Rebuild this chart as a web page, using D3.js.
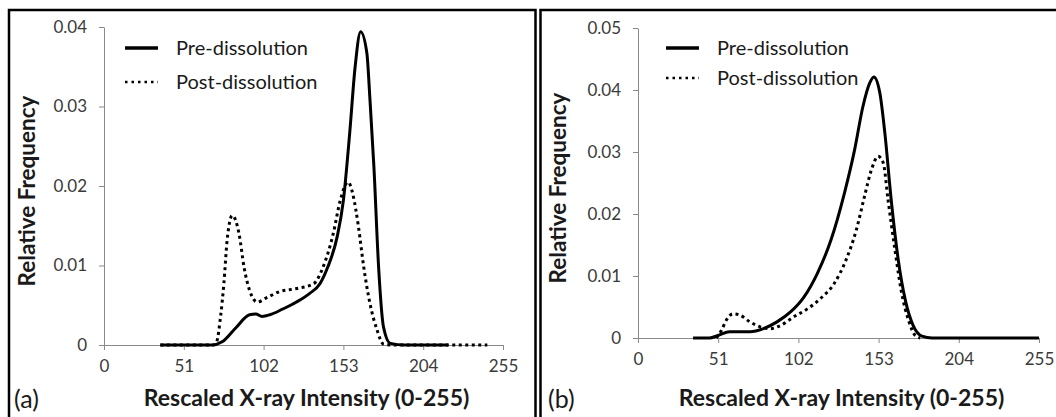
<!DOCTYPE html>
<html>
<head>
<meta charset="utf-8">
<script src="https://cdn.jsdelivr.net/npm/d3@7.9.0/dist/d3.min.js"></script>
<style>
  body { margin: 0; background: #fff; }
  text { font-family: Lato, "Open Sans", sans-serif; }
</style>
</head>
<body>
<svg id="chart" width="1056" height="417"></svg>
<script>
// Tick labels shared by both panels
const xTicks = [0, 51, 102, 153, 204, 255];
const yTicksA = [0, 0.01, 0.02, 0.03, 0.04];
const yTicksB = [0, 0.01, 0.02, 0.03, 0.04, 0.05];
const seriesNames = ['Pre-dissolution', 'Post-dissolution'];

// Panel (a)
const preA_x = [36, 69, 75.5, 84, 93, 97, 101, 106, 114, 123, 131.5, 138, 143, 149, 153, 157, 160.5, 164, 168, 170, 172.5, 175.5, 178.6, 183, 192, 220];
const preA_y = [0, 0, 0.0004, 0.0021, 0.0038, 0.0039, 0.0036, 0.0038, 0.0045, 0.0054, 0.0065, 0.0077, 0.0098, 0.0136, 0.0182, 0.0266, 0.035, 0.0394, 0.0367, 0.0308, 0.0224, 0.0098, 0.0023, 0.0002, 0, 0];
const postA_x = [36, 70, 72, 74.5, 76.6, 78.7, 82, 86.3, 89.5, 93, 98, 103.5, 112, 123, 134, 140, 146.5, 151, 156, 159, 162.6, 166, 170, 174.5, 178.6, 183, 245];
const postA_y = [0, 0, 0.0004, 0.0036, 0.0077, 0.0132, 0.0163, 0.014, 0.0098, 0.0069, 0.0054, 0.0059, 0.0067, 0.0071, 0.0077, 0.0098, 0.014, 0.0182, 0.0205, 0.019, 0.0149, 0.0098, 0.0052, 0.0019, 0.0001, 0, 0];

// Panel (b)
const preB_x = [35, 45.5, 50.8, 58.3, 62.6, 71.2, 79.8, 88.4, 97, 105.5, 114, 122.7, 131.2, 137.7, 143, 147.3, 150, 153.8, 157, 161, 165.5, 170, 175, 180.6, 187, 255];
const preB_y = [0, 0, 0.0004, 0.001, 0.001, 0.001, 0.0015, 0.0026, 0.0042, 0.0066, 0.0104, 0.0158, 0.0233, 0.0303, 0.0373, 0.0411, 0.0421, 0.0395, 0.033, 0.0223, 0.0126, 0.0061, 0.002, 0.0003, 0, 0];
const postB_x = [49.8, 53, 56.2, 60.5, 64.8, 71.2, 77.6, 84, 90.5, 99, 107.7, 116.2, 124.8, 132.3, 138.8, 144, 148.4, 152.7, 156, 159, 163.4, 167.7, 172, 176.3, 179.5];
const postB_y = [0, 0.0012, 0.0029, 0.0039, 0.0037, 0.0026, 0.0018, 0.0015, 0.002, 0.0034, 0.0047, 0.0064, 0.0088, 0.0126, 0.0174, 0.0228, 0.0271, 0.0293, 0.0282, 0.0223, 0.0142, 0.0072, 0.0029, 0.0004, 0];

const svg = d3.select('#chart');

// Frames around the two panels
const frames = svg.append('g').attr('stroke', '#000').attr('stroke-width', 2.5).attr('fill', 'none');
frames.append('path').attr('d', 'M9,417V10H535.5V417');
frames.append('path').attr('d', 'M540.5,417V10H1056');

const zip = (xs, ys) => xs.map((x, i) => [x, ys[i]]);

const panels = [
  { tag: '(a)', left: 104, right: 503, top: 27, bottom: 345, yMax: 0.04, yTicks: yTicksA,
    pre: zip(preA_x, preA_y), post: zip(postA_x, postA_y),
    legend: { x: 125, y1: 48, y2: 82 }, yTitleX: 27, tagX: 14 },
  { tag: '(b)', left: 638, right: 1039, top: 28, bottom: 338, yMax: 0.05, yTicks: yTicksB,
    pre: zip(preB_x, preB_y), post: zip(postB_x, postB_y),
    legend: { x: 666, y1: 48, y2: 78 }, yTitleX: 558, tagX: 548 }
];

const fmt = d => d === 0 ? '0' : d3.format('.2f')(d);

panels.forEach(p => {
  const x = d3.scaleLinear().domain([0, 255]).range([p.left, p.right]);
  const y = d3.scaleLinear().domain([0, p.yMax]).range([p.bottom, p.top]);
  const g = svg.append('g');

  const xAxis = g.append('g')
    .attr('transform', `translate(0,${p.bottom})`)
    .call(d3.axisBottom(x).tickValues(xTicks).tickSize(5).tickSizeOuter(0).tickPadding(10));
  const yAxis = g.append('g')
    .attr('transform', `translate(${p.left},0)`)
    .call(d3.axisLeft(y).tickValues(p.yTicks).tickFormat(fmt).tickSize(5).tickSizeOuter(0).tickPadding(12));
  [xAxis, yAxis].forEach(a => {
    a.select('.domain').attr('stroke', '#8a8a8a');
    a.selectAll('.tick line').attr('stroke', '#8a8a8a');
    a.selectAll('.tick text').attr('fill', '#3a3a3a').style('font-size', '17px');
  });

  const line = d3.line().x(d => x(d[0])).y(d => y(d[1])).curve(d3.curveMonotoneX);

  g.append('path').datum(p.pre)
    .attr('d', line).attr('fill', 'none').attr('stroke', '#000')
    .attr('stroke-width', 3).attr('stroke-linejoin', 'round');
  g.append('path').datum(p.post)
    .attr('d', line).attr('fill', 'none').attr('stroke', '#000')
    .attr('stroke-width', 3).attr('stroke-dasharray', '3,3.5');

  // Legend
  const lg = g.append('g');
  lg.append('line').attr('x1', p.legend.x).attr('x2', p.legend.x + 33)
    .attr('y1', p.legend.y1).attr('y2', p.legend.y1)
    .attr('stroke', '#000').attr('stroke-width', 3.5);
  lg.append('line').attr('x1', p.legend.x).attr('x2', p.legend.x + 33)
    .attr('y1', p.legend.y2).attr('y2', p.legend.y2)
    .attr('stroke', '#000').attr('stroke-width', 2.5).attr('stroke-dasharray', '2.5,4');
  [p.legend.y1, p.legend.y2].forEach((ly, i) => {
    lg.append('text').attr('x', p.legend.x + 51).attr('y', ly).attr('dy', '0.35em')
      .attr('fill', '#1a1a1a').style('font-size', '20px').text(seriesNames[i]);
  });

  // Axis titles
  g.append('text')
    .attr('x', (p.left + p.right) / 2 + 3).attr('y', 398).attr('dy', '0.35em')
    .attr('text-anchor', 'middle').attr('fill', '#1a1a1a')
    .style('font-size', '23px').style('font-weight', 'bold')
    .text('Rescaled X-ray Intensity (0-255)');
  g.append('text')
    .attr('transform', `translate(${p.yTitleX},${(p.top + p.bottom) / 2 + 5}) rotate(-90)`)
    .attr('dy', '0.35em').attr('text-anchor', 'middle').attr('fill', '#1a1a1a')
    .style('font-size', '22.5px').style('font-weight', 'bold')
    .text('Relative Frequency');
  g.append('text')
    .attr('x', p.tagX).attr('y', 399).attr('dy', '0.35em')
    .attr('fill', '#1a1a1a').style('font-size', '25px')
    .text(p.tag);
});
</script>
</body>
</html>
